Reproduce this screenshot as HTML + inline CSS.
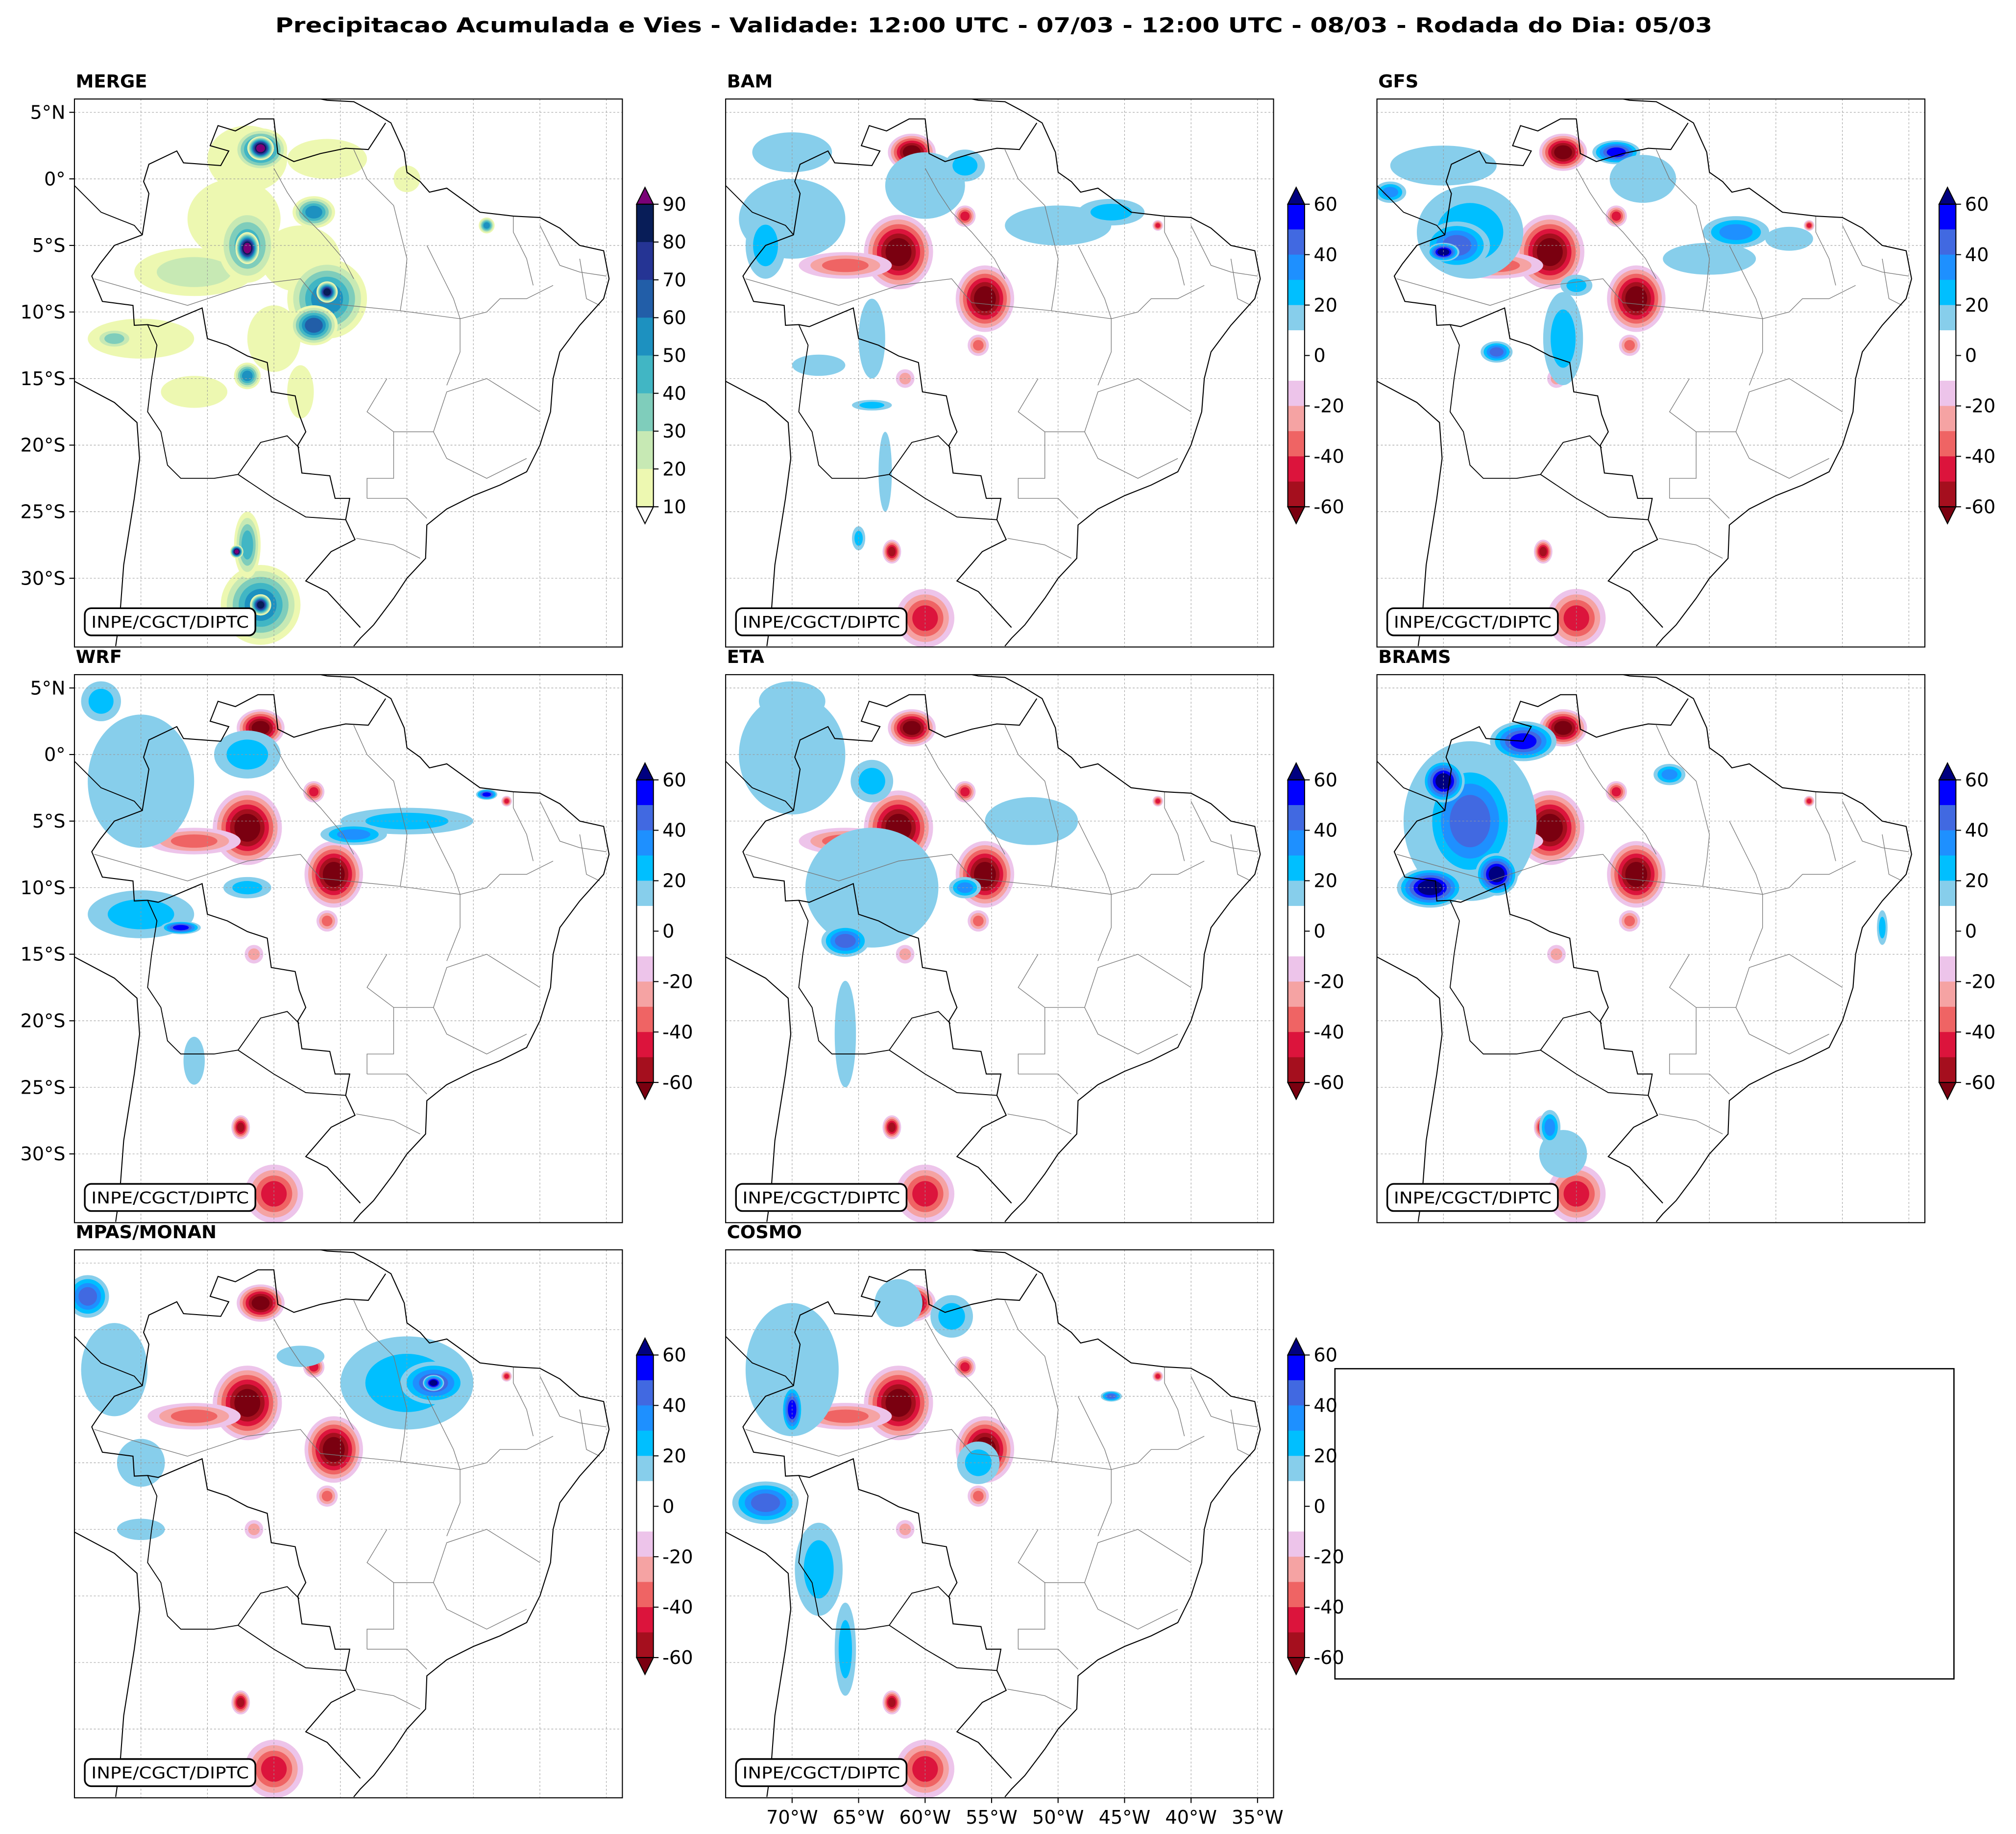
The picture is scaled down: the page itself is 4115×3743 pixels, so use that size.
<!DOCTYPE html>
<html><head><meta charset="utf-8"><style>
html,body{margin:0;padding:0;background:#fff}
svg{display:block}
text{font-family:"DejaVu Sans","Liberation Sans",sans-serif;fill:#000}
</style></head><body>
<svg id="fig" xmlns="http://www.w3.org/2000/svg" width="4115" height="3743" viewBox="0 0 1560 1419">
<rect x="0" y="0" width="1560" height="1419" fill="#fff"/>
<text x="769" y="25" text-anchor="middle" font-size="16" font-weight="bold" textLength="1112" lengthAdjust="spacingAndGlyphs">Precipitacao Acumulada e Vies - Validade: 12:00 UTC - 07/03 - 12:00 UTC - 08/03 - Rodada do Dia: 05/03</text>
<rect x="1033" y="1059" width="479" height="240" fill="none" stroke="#000" stroke-width="1"/>
</svg>
<script>
// ---- data ----
const panelNames = ["MERGE","BAM","GFS","WRF","ETA","BRAMS","MPAS/MONAN","COSMO"];
const latTicks = [5,0,-5,-10,-15,-20,-25,-30];
const latLabels = ["5°N","0°","5°S","10°S","15°S","20°S","25°S","30°S"];
const lonTicks = [-70,-65,-60,-55,-50,-45,-40,-35];
const lonLabels = ["70°W","65°W","60°W","55°W","50°W","45°W","40°W","35°W"];
const mergeLevels = [10,20,30,40,50,60,70,80,90];
const mergeTickLabels = ["90","80","70","60","50","40","30","20","10"];
const biasLevels = [60,50,40,30,20,10,-10,-20,-30,-40,-50,-60];
const biasTickLabels = ["60","40","20","0","-20","-40","-60"];
// blobs: [lon, lat, rx(deg), ry(deg), level]
const mergeBlobs = [[-63,-3,3.5,3,1],[-62,1.5,3,2.5,1],[-66,-7,4.5,1.8,2],[-58,-6,3,2.5,1],[-70,-12,4,1.5,1],[-56,1.5,3,1.5,1],[-60,-12,2,2.5,1],[-66,-16,2.5,1.2,1],[-58,-16,1,2,1],[-62,-5,2.2,2.8,4],[-62,-5.2,0.9,1.2,9],[-61,2.2,2,1.6,6],[-61,2.3,1,0.9,9],[-57,-2.5,1.6,1.2,5],[-56,-9,3,3,5],[-56,-8.5,0.8,0.8,8],[-57,-11,1.8,1.5,6],[-62,-14.8,1,1,5],[-72,-12,1.5,0.8,3],[-61,-32,3,3,5],[-61,-32,0.8,0.8,8],[-62,-27.5,1,2.5,4],[-62.8,-28,0.5,0.5,9],[-44,-3.5,0.6,0.6,5],[-50,0,1,1,1]];
const bamBlobs = [[-70,-3,4,3,1],[-60,-0.5,3,2.5,1],[-50,-3.5,4,1.5,1],[-46,-2.5,2.5,1,2],[-72,-5,1.5,2.5,2],[-64,-12,1,3,1],[-68,-14,2,0.8,1],[-64,-17,1.5,0.4,2],[-70,2,3,1.5,1],[-57,1,1.5,1.2,2],[-63,-22,0.5,3,1],[-65,-27,0.5,0.9,2]];
const gfsBlobs = [[-70,1,4,1.5,1],[-68,-4,4,3.5,2],[-69,-5,2.5,1.8,4],[-70,-5.5,1.2,0.7,6],[-57,2,1.8,0.9,5],[-48,-4,2.5,1.2,3],[-61,-12,1.5,3.5,2],[-55,0,2.5,1.8,1],[-44,-4.5,1.8,0.9,1],[-50,-6,3.5,1.2,1],[-74,-1,1.2,0.8,3],[-60,-8,1.2,0.8,2],[-66,-13,1.2,0.8,4]];
const wrfBlobs = [[-70,-2,4,5,1],[-62,0,2.5,1.8,2],[-50,-5,5,1,2],[-54,-6,2.5,0.8,3],[-70,-12,4,1.8,2],[-67,-13,1.5,0.5,5],[-66,-23,0.8,1.8,1],[-73,4,1.5,1.5,2],[-44,-3,0.8,0.4,5],[-62,-10,1.8,0.8,2]];
const etaBlobs = [[-70,0,4,4.5,1],[-64,-10,5,4.5,1],[-66,-14,1.8,1.2,4],[-52,-5,3.5,1.8,1],[-66,-21,0.8,4,1],[-64,-2,1.6,1.6,2],[-57,-10,1.2,0.8,3],[-70,4,2.5,1.5,1]];
const bramsBlobs = [[-68,-5,5,6,2],[-68,-5,3.5,4.5,4],[-66,-9,1.6,1.6,6],[-71,-10,2.5,1.5,6],[-64,1,2.5,1.5,5],[-53,-1.5,1.2,0.8,3],[-37,-13,0.4,1.3,2],[-61,-30,1.8,1.8,1],[-70,-2,1.6,1.6,6],[-62,-28,0.8,1.3,3]];
const mpasBlobs = [[-50,-4,5,3.5,2],[-48,-4,2.5,1.6,4],[-48,-4,0.8,0.6,6],[-74,2.5,1.6,1.6,4],[-72,-3,2.5,3.5,1],[-70,-15,1.8,0.8,1],[-58,-2,1.8,0.8,1],[-70,-10,1.8,1.8,1]];
const cosmoBlobs = [[-70,-3,3.5,5,1],[-70,-6,0.8,1.8,5],[-72,-13,2.5,1.6,4],[-68,-18,1.8,3.5,2],[-66,-24,0.8,3.5,2],[-58,1,1.6,1.6,2],[-46,-5,0.8,0.4,4],[-56,-10,1.6,1.6,2],[-62,2,1.8,1.8,1]];
const commonRed = [[-61,2,1.8,1.4,-6],[-62,-5.5,2.6,2.8,-6],[-66,-6.5,3.5,1,-3],[-55.5,-9,2.2,2.5,-6],[-57,-2.8,0.8,0.8,-4],[-61.5,-15,0.7,0.7,-2],[-62.5,-28,0.7,0.9,-5],[-60,-33,2.2,2.2,-4],[-42.5,-3.5,0.4,0.4,-4],[-56,-12.5,0.8,0.8,-3]];
const panelBlobs = [mergeBlobs,bamBlobs,gfsBlobs,wrfBlobs,etaBlobs,bramsBlobs,mpasBlobs,cosmoBlobs];
const coast1 = [[-75,-15.2],[-72,-16.8],[-70.3,-18.3],[-70.1,-21],[-70.5,-24],[-71.3,-29],[-71.6,-33],[-71.9,-35.1]];
const coast2 = [[-57.5,6.2],[-56,5.9],[-54,5.8],[-52.5,5],[-51.2,4.2],[-50.2,2],[-50,0.5],[-49,-0.2],[-48.3,-1],[-47,-0.7],[-44.5,-2.5],[-42,-2.8],[-40,-2.9],[-38.5,-3.7],[-37,-5],[-35.2,-5.4],[-34.8,-7.5],[-35.2,-9],[-37,-11],[-38.5,-13],[-39,-15],[-39.2,-17.5],[-40,-20],[-41,-22],[-43,-23],[-45,-23.8],[-47,-24.8],[-48.5,-26],[-48.6,-28.5],[-50,-30],[-51,-31.5],[-52.5,-33.5],[-53.5,-34.5],[-54,-35.1]];
const border = [[-51.6,4.2],[-52.9,2.2],[-54.6,2.3],[-56.5,1.9],[-58.5,1.3],[-59.7,1.9],[-60,4.5],[-61.2,4.5],[-62.9,3.6],[-64.2,4],[-64.8,2.5],[-63.4,2.1],[-64,1],[-66.8,1.2],[-67.3,2.1],[-69.4,1.1],[-69.8,-0.2],[-69.4,-1.1],[-69.9,-4.2],[-72,-5],[-73.1,-6.4],[-73.7,-7.3],[-72.9,-9.2],[-70.6,-9.5],[-70.5,-11],[-69.5,-10.95],[-68.7,-11.1],[-65.4,-9.7],[-65,-12],[-63.5,-12.5],[-62,-13.3],[-60.5,-13.8],[-60.2,-16],[-58.4,-16.3],[-58.1,-17.7],[-57.6,-19],[-58.2,-20],[-57.9,-22.1],[-55.8,-22.3],[-55.4,-24],[-54.3,-24],[-54.6,-25.6],[-53.9,-27.1],[-55.7,-28],[-57.6,-30.2],[-56,-31],[-53.5,-33.7]];
const border2 = [[-75,-0.5],[-73,-2.5],[-70.5,-3.5],[-69.9,-4.2]];
const border3 = [[-69.5,-10.95],[-68.8,-12.5],[-69.2,-15],[-69.5,-17.5],[-68.5,-19],[-68,-21.5],[-67,-22.5],[-64.5,-22.5],[-62.7,-22.2],[-61,-19.8],[-59,-19.3],[-58.1,-20.2]];
const border4 = [[-62.7,-22.2],[-60,-24],[-57.6,-25.4],[-54.6,-25.6]];
const states = [
 [[-73.5,-7.5],[-66.5,-9.5],[-62,-8],[-58,-7.5],[-56.5,-9.3],[-50.5,-9.9],[-46,-10.5]],
 [[-60,0.8],[-59,-1],[-58,-2.5],[-56.5,-4],[-54.8,-6],[-54,-7.5]],
 [[-54,2.2],[-53,0],[-52,-1],[-51,-2],[-50.5,-4],[-50,-6],[-50.2,-8],[-50.5,-9.9]],
 [[-48.5,-5],[-47.5,-7],[-46.5,-9],[-46,-10.5],[-46,-13],[-47,-15.5]],
 [[-46,-10.5],[-44,-10],[-43,-9],[-41,-9],[-39,-8]],
 [[-42,-2.8],[-42,-4],[-41,-6],[-40.5,-8]],
 [[-40,-3.5],[-38.5,-6.5],[-37,-7],[-35,-7.3]],
 [[-37,-6],[-36.5,-9],[-35.5,-9.5]],
 [[-51.5,-15],[-53,-17.5],[-51,-19],[-48,-19],[-47,-16],[-44,-15],[-40,-17.5]],
 [[-51,-19],[-51,-22.5],[-53,-22.5],[-53,-24]],
 [[-48,-19],[-47,-21],[-44,-22.5],[-41,-21]],
 [[-53,-24],[-50,-24],[-48.5,-25.5]],
 [[-53.8,-27],[-51,-27.5],[-49,-28.5]]
];
// ---- styles ----
const posCols = ["#87ceeb","#00bfff","#1e90ff","#4169e1","#0000ff","#000080"];
const negCols = ["#edc4ea","#f5a3a3","#ef6464","#dc143c","#a50f1e","#7a0010"];
const mergeCols = ["#edf8b1","#c7e9b4","#7fcdbb","#41b6c4","#1d91c0","#225ea8","#253494","#081d58","#7a0177"];
const NS = "http://www.w3.org/2000/svg";
const svg = document.getElementById('fig');
const origins = [[57.6,76.6],[561.5,76.6],[1065.5,76.6],[57.6,522],[561.5,522],[1065.5,522],[57.6,967],[561.5,967]];
const S = 424, DEG = 10.29, DEGY = 10.3;
function el(tag, attrs, parent){const e=document.createElementNS(NS,tag);for(const k in attrs)e.setAttribute(k,attrs[k]);(parent||svg).appendChild(e);return e;}
function px(x0,lon){return x0+(lon+75)*DEG;}
function py(y0,lat){return y0+(6.0-lat)*DEGY;}
function line(g,x0,y0,pts,stroke,w){
  const d=pts.map((p,i)=>(i?'L':'M')+px(x0,p[0]).toFixed(1)+' '+py(y0,p[1]).toFixed(1)).join(' ');
  return el('path',{d:d,fill:'none',stroke:stroke,'stroke-width':w},g);
}
origins.forEach((o,i)=>{
  const [x0,y0]=o;
  const g=el('g',{});
  
  
  const cp=el('clipPath',{id:'cp'+i},g);
  el('rect',{x:x0,y:y0,width:S,height:S},cp);
  const inner=el('g',{'clip-path':'url(#cp'+i+')'},g);
  const isMerge=i===0;
  const blobs=isMerge?mergeBlobs:commonRed.concat(panelBlobs[i]);
  blobs.forEach(b=>{
    const L=Math.abs(b[4]);
    for(let k=1;k<=L;k++){
      const s=1-0.75*(k-1)/L;
      const col=isMerge?mergeCols[k-1]:(b[4]>0?posCols[k-1]:negCols[k-1]);
      const e=el('ellipse',{cx:px(x0,b[0]),cy:py(y0,b[1]),rx:b[2]*DEG*s,ry:b[3]*DEGY*s,fill:col},inner);
      
      
    }
  });
  lonTicks.forEach(l=>{el('line',{x1:px(x0,l),x2:px(x0,l),y1:y0,y2:y0+S,stroke:'#999','stroke-width':0.4,'stroke-dasharray':'1.5,1.5'},inner);});
  latTicks.forEach(l=>{el('line',{x1:x0,x2:x0+S,y1:py(y0,l),y2:py(y0,l),stroke:'#999','stroke-width':0.4,'stroke-dasharray':'1.5,1.5'},inner);});
  states.forEach(s=>line(inner,x0,y0,s,'#777',0.5));
  line(inner,x0,y0,border,'#000',0.8);
  line(inner,x0,y0,border2,'#000',0.7);
  line(inner,x0,y0,border3,'#000',0.7);
  line(inner,x0,y0,border4,'#000',0.7);
  line(inner,x0,y0,coast1,'#000',0.8);
  line(inner,x0,y0,coast2,'#000',0.8);
  const fr=el('rect',{x:x0,y:y0,width:S,height:S,fill:'none',stroke:'#000','stroke-width':0.8},g);
  
  
  const t=el('text',{x:x0+1,y:y0-9,'font-size':14,'font-weight':'bold'},g);
  t.textContent=panelNames[i];
  
  
  const wb=el('rect',{x:x0+8,y:y0+394,width:132,height:21,rx:5,fill:'#fff',stroke:'#000','stroke-width':1.3},g);
  
  
  const wt=el('text',{x:x0+74,y:y0+409,'font-size':12.5,'text-anchor':'middle',textLength:122,lengthAdjust:'spacingAndGlyphs'},g);
  wt.textContent='INPE/CGCT/DIPTC';
  
  
  if(i===0||i===3){
    latTicks.forEach((l,j)=>{
      const y=py(y0,l);
      el('line',{x1:x0-4,x2:x0,y1:y,y2:y,stroke:'#000','stroke-width':0.8},g);
      const tt=el('text',{x:x0-7,y:y+5,'font-size':14.5,'text-anchor':'end'},g);
      tt.textContent=latLabels[j];
      
      
    });
  }
  if(i===7){
    lonTicks.forEach((l,j)=>{
      const x=px(x0,l);
      el('line',{x1:x,x2:x,y1:y0+S,y2:y0+S+4,stroke:'#000','stroke-width':0.8},g);
      const tt=el('text',{x:x,y:y0+S+20,'font-size':14.5,'text-anchor':'middle'},g);
      tt.textContent=lonLabels[j];
      
      
    });
  }
  // colorbar
  const cb=el('g',{},svg);
  
  
  const cx=x0+435, cw=13, top=y0+81.4, bot=y0+315.5;
  let cols, labs;
  if(isMerge){cols=mergeCols.slice(0,8).reverse(); labs=mergeTickLabels;}
  else{cols=posCols.slice(0,5).reverse().concat(['#ffffff','#ffffff']).concat(negCols.slice(0,5)); labs=biasTickLabels;}
  const n=cols.length, h=(bot-top)/n;
  cols.forEach((c,k)=>{el('rect',{x:cx,y:top+k*h,width:cw,height:h+0.3,fill:c},cb);});
  const upCol=isMerge?mergeCols[8]:posCols[5], dnCol=isMerge?'#ffffff':negCols[5];
  el('path',{d:`M${cx} ${top} L${cx+cw/2} ${top-13} L${cx+cw} ${top} Z`,fill:upCol,stroke:'#000','stroke-width':0.8},cb);
  el('path',{d:`M${cx} ${bot} L${cx+cw/2} ${bot+13} L${cx+cw} ${bot} Z`,fill:dnCol,stroke:'#000','stroke-width':0.8},cb);
  el('rect',{x:cx,y:top,width:cw,height:bot-top,fill:'none',stroke:'#000','stroke-width':0.8},cb);
  labs.forEach((lb,k)=>{
    const y=top+k*(bot-top)/(labs.length-1);
    el('line',{x1:cx+cw,x2:cx+cw+4,y1:y,y2:y,stroke:'#000','stroke-width':0.8},cb);
    const tt=el('text',{x:cx+cw+7,y:y+5,'font-size':14.5},cb);
    tt.textContent=lb;
    
    
  });
});
</script>
</body></html>
